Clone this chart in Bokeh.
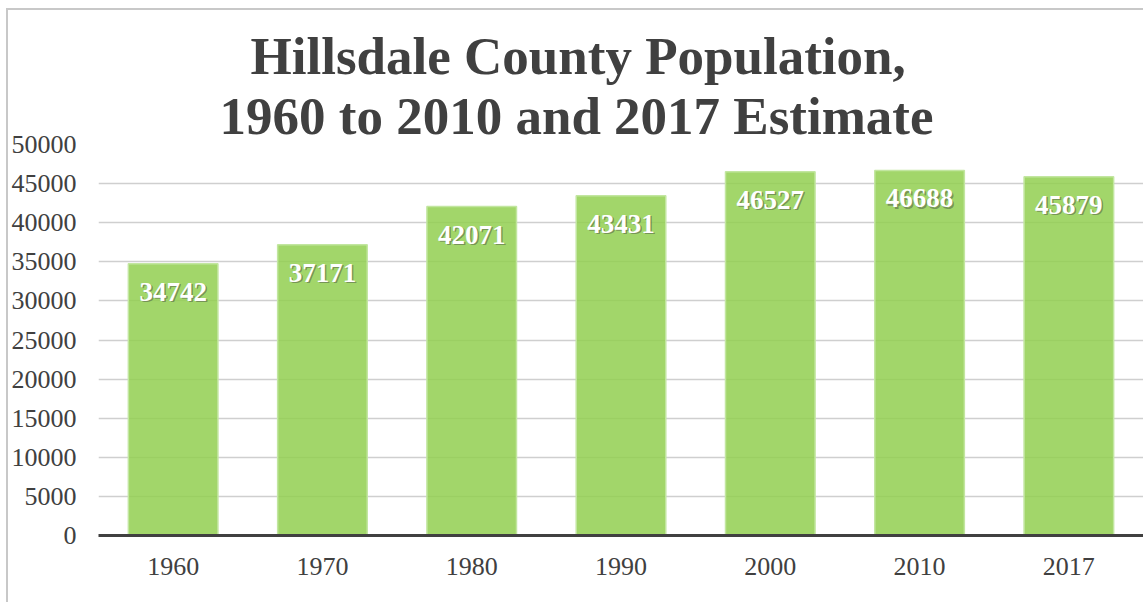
from bokeh.plotting import figure
from bokeh.models import ColumnDataSource, Range1d, FactorRange, LabelSet, Title
from bokeh.embed import file_html
from bokeh.resources import INLINE

years = ["1960", "1970", "1980", "1990", "2000", "2010", "2017"]
population = [34742, 37171, 42071, 43431, 46527, 46688, 45879]
y_ticks = [0, 5000, 10000, 15000, 20000, 25000, 30000, 35000, 40000, 45000, 50000]
title_lines = ["Hillsdale County Population,", "1960 to 2010 and 2017 Estimate"]

src = ColumnDataSource(dict(x=years, y=population, lab=[str(v) for v in population]))

p = figure(width=1137, height=594, x_range=FactorRange(*years, range_padding=0),
           y_range=Range1d(0, 50000), output_backend="svg", toolbar_location=None,
           min_border_left=90, min_border_right=2, min_border_top=134, min_border_bottom=69)
p.outline_line_color = None
p.styles = {"border-left": "2px solid #c8c8c8", "border-top": "2px solid #c8c8c8",
            "margin-left": "6px", "margin-top": "8px"}

p.ygrid.grid_line_color = "#cfcfcf"
p.ygrid.grid_line_width = 1.5
p.xgrid.grid_line_color = None
p.ygrid.level = "underlay"

p.vbar(x="x", top="y", width=0.6, source=src, fill_color="#92CF50", fill_alpha=0.85,
       line_color="#C2E6A0", line_width=1.5)

for ax in (p.yaxis, p.xaxis):
    ax.major_tick_line_color = None
    ax.minor_tick_line_color = None
    ax.major_tick_out = 0
    ax.major_tick_in = 0
    ax.minor_tick_out = 0
    ax.major_label_text_font = "Liberation Serif"
    ax.major_label_text_font_size = "26px"
    ax.major_label_text_color = "#404040"

p.yaxis.ticker = y_ticks
p.yaxis.axis_line_color = None
p.yaxis.major_label_standoff = 22

p.xaxis.axis_line_color = "#404040"
p.xaxis.axis_line_width = 3
p.xaxis.major_label_standoff = 22

shadow = LabelSet(x="x", y="y", text="lab", source=src, text_align="center",
                  text_baseline="top", y_offset=-20.5, x_offset=1.5,
                  text_font="Liberation Serif", text_font_style="bold",
                  text_font_size="27px", text_color="#404040", text_alpha=0.45)
p.add_layout(shadow)
labels = LabelSet(x="x", y="y", text="lab", source=src, text_align="center",
                  text_baseline="top", y_offset=-19,
                  text_font="Liberation Serif", text_font_style="bold",
                  text_font_size="27px", text_color="white")
p.add_layout(labels)

for txt, off in zip(reversed(title_lines), [121, 152]):
    p.add_layout(Title(text=txt, align="left", offset=off, standoff=0,
                       text_line_height=0.9,
                       text_font="Liberation Serif", text_font_style="bold",
                       text_font_size="53px", text_color="#404040"), "above")

open("out.html", "w").write(file_html(p, INLINE))
